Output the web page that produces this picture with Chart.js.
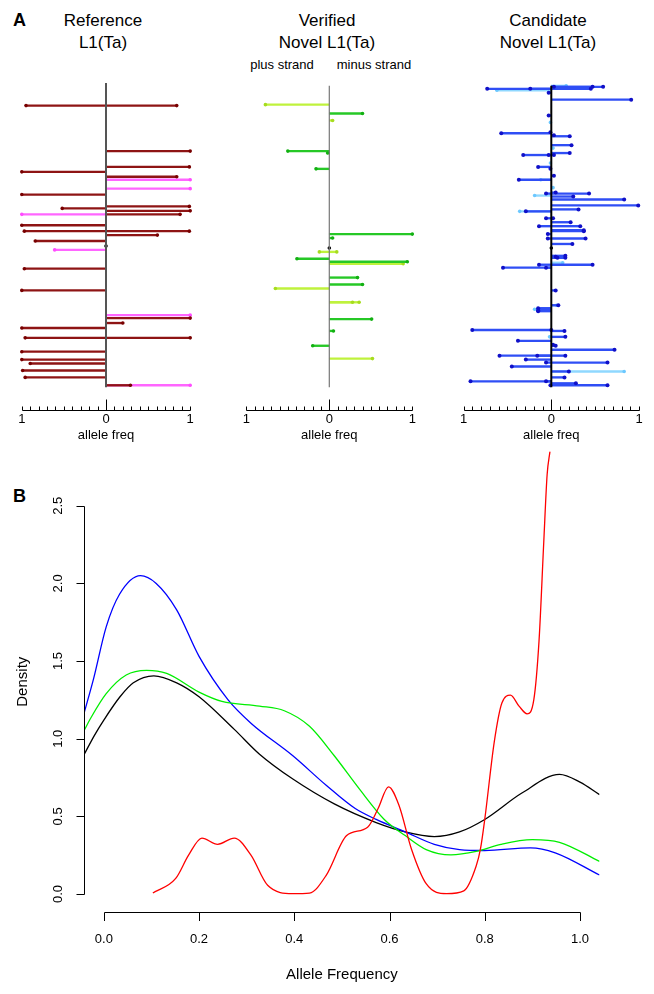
<!DOCTYPE html>
<html>
<head>
<meta charset="utf-8">
<script src="https://cdn.jsdelivr.net/npm/chart.js@4.4.1/dist/chart.umd.min.js"></script>
<style>
  body { margin: 0; background: #fff; }
  #page { position: relative; width: 654px; height: 994px; overflow: hidden;
          font-family: "Liberation Sans", Arial, Helvetica, sans-serif; color: #000; }
  .lbl { position: absolute; text-align: center; white-space: nowrap; }
  .ttl { font-size: 17px; line-height: 22px; width: 160px; }
  .sub { font-size: 13px; line-height: 16px; width: 100px; }
  .tag { font-size: 18px; font-weight: bold; line-height: 22px; }
  canvas { position: absolute; }
</style>
</head>
<body>
<div id="page">
  <div class="lbl tag" style="left:13px;top:9px;">A</div>
  <div class="lbl ttl" style="left:23px;top:10px;">Reference<br>L1(Ta)</div>
  <div class="lbl ttl" style="left:247px;top:10px;">Verified<br>Novel L1(Ta)</div>
  <div class="lbl ttl" style="left:468px;top:10px;">Candidate<br>Novel L1(Ta)</div>
  <div class="lbl sub" style="left:232px;top:57px;">plus strand</div>
  <div class="lbl sub" style="left:324px;top:57px;">minus strand</div>
  <div class="lbl tag" style="left:13px;top:485px;">B</div>

  <canvas id="cRef" width="215" height="380" style="left:0;top:70px"></canvas>
  <canvas id="cVer" width="210" height="380" style="left:225px;top:70px"></canvas>
  <canvas id="cCan" width="214" height="380" style="left:440px;top:70px"></canvas>
  <canvas id="cDens" width="654" height="554" style="left:0;top:440px"></canvas>
</div>
<script>
// --- panel A: locus order (top -> bottom) and allele freq (negative = plus strand, drawn left)
const refDarkPos  = [32, 32, 78, 94, 99, 104, 122, 134, 136, 138.5, 142, 153, 159, 159, 163, 169, 197, 219, 247, 252, 257, 267, 267, 281, 289, 293, 300, 307, 315];
const refDarkFreq = [-0.95, 0.84, 1.0, 0.99, -1.0, 0.84, -1.0, 0.99, -0.52, 1.0, 0.88, -1.0, -0.97, 0.99, 0.61, -0.84, -0.97, -1.0, 1.0, 0.20, -1.0, -0.96, 1.0, -1.0, -1.0, -0.90, -0.99, -0.96, 0.29];
const refPinkPos  = [107, 116, 142, 178, 244, 315];
const refPinkFreq = [1.0, 1.0, -1.0, -0.61, 1.0, 1.0];
const refZeroPos  = [174];

const verYgPos  = [31, 47, 180, 180, 192, 217, 231, 231, 288];
const verYgFreq = [-0.77, 0.04, -0.12, 0.09, 0.89, -0.65, 0.36, 0.28, 0.52];
const verGrPos  = [40, 78, 80, 96, 162, 166, 187, 190, 206, 213, 248, 260, 275];
const verGrFreq = [0.40, -0.50, -0.02, -0.16, 1.0, 0.04, -0.39, 0.94, 0.34, 0.40, 0.51, 0.05, -0.20];
const verZeroPos = [176];

const canBluePos = [13, 13, 13, 15, 15, 15, 19, 26, 42, 59,
  60, 62, 63, 72, 80, 82, 82, 82, 94, 96,
  103, 107, 120, 121, 121, 124, 127, 133, 137, 139,
  146, 146, 150, 154, 154, 158, 159, 162, 166.5, 166.5,
  172, 184, 185, 186, 186, 193, 193, 196, 196, 219,
  234, 237, 239, 240, 259, 259, 260, 266, 270, 274,
  275, 279, 285, 285, 285, 289, 292, 292, 296, 301,
  307, 311, 311, 313, 315, 315];
const canBlueFreq = [0.59, 0.47, 0.03, 0.45, -0.73, -0.24, -0.03, 0.91, -0.03, -0.01,
  -0.57, 0.03, 0.21, 0.23, 0.21, -0.32, -0.03, 0.03, -0.15, -0.01,
  0.03, -0.37, 0.05, 0.43, -0.06, 0.25, 0.83, 0.99, 0.31, -0.29,
  -0.06, 0.02, 0.22, -0.14, 0.33, 0.37, 0.37, -0.04, -0.04, 0.39,
  0.24, 0.16, 0.05, 0.07, 0.16, -0.14, 0.47, -0.55, -0.06, 0.05,
  0.08, -0.15, -0.15, -0.15, -0.90, 0.0, 0.15, 0.16, -0.38, 0.02,
  0.05, 0.72, -0.59, -0.16, 0.16, -0.29, -0.06, 0.64, -0.45, 0.20,
  0.15, -0.92, -0.06, 0.28, 0.64, -0.01];
const canLightPos  = [12, 16.5, 49, 75, 90, 107, 115, 123, 139, 191, 234, 238, 266, 301];
const canLightFreq = [0.17, -0.62, -0.01, 0.02, -0.01, -0.12, 0.02, -0.19, -0.36, 0.13, 0.06, -0.19, -0.02, 0.83];
const canZeroPos = [176];

// --- panel B: density curves
const blackX = [-0.041, -0.02, 0.0, 0.034, 0.062, 0.105, 0.153, 0.2, 0.274, 0.327, 0.397, 0.484, 0.572, 0.633, 0.694, 0.747, 0.8, 0.878, 0.957, 1.0, 1.041];
const blackY = [0.90, 1.02, 1.12, 1.27, 1.36, 1.405, 1.36, 1.27, 1.06, 0.90, 0.74, 0.58, 0.46, 0.40, 0.37, 0.40, 0.48, 0.65, 0.77, 0.72, 0.64];
const blueX = [-0.041, -0.022, 0.005, 0.033, 0.077, 0.11, 0.153, 0.2, 0.261, 0.309, 0.397, 0.467, 0.528, 0.572, 0.633, 0.694, 0.747, 0.8, 0.896, 0.948, 1.041];
const blueY = [1.17, 1.38, 1.72, 1.93, 2.05, 2.0, 1.83, 1.53, 1.25, 1.10, 0.89, 0.70, 0.55, 0.48, 0.40, 0.32, 0.286, 0.28, 0.297, 0.265, 0.122];
const greenX = [-0.041, -0.028, 0.005, 0.047, 0.09, 0.132, 0.2, 0.248, 0.327, 0.379, 0.432, 0.484, 0.537, 0.589, 0.633, 0.677, 0.729, 0.782, 0.834, 0.90, 0.957, 1.041];
const greenY = [1.055, 1.13, 1.29, 1.41, 1.44, 1.42, 1.30, 1.24, 1.21, 1.18, 1.08, 0.89, 0.675, 0.48, 0.376, 0.286, 0.252, 0.274, 0.32, 0.35, 0.333, 0.21];
const redX = [0.103, 0.151, 0.178, 0.206, 0.239, 0.274, 0.309, 0.344, 0.397, 0.432, 0.467, 0.51, 0.554, 0.576, 0.598, 0.62, 0.646, 0.677, 0.72, 0.756, 0.782, 0.791, 0.8, 0.82, 0.836, 0.854, 0.872, 0.889, 0.903, 0.914, 0.924, 0.931, 0.937];
const redY = [0.006, 0.10, 0.25, 0.36, 0.32, 0.36, 0.25, 0.056, 0.002, 0.006, 0.12, 0.376, 0.43, 0.55, 0.69, 0.57, 0.29, 0.066, 0.002, 0.02, 0.18, 0.29, 0.48, 0.98, 1.23, 1.28, 1.21, 1.16, 1.25, 1.63, 2.27, 2.70, 2.85];

const FONT = '"Liberation Sans", Arial, Helvetica, sans-serif';
Chart.defaults.font.family = FONT;
Chart.defaults.color = '#000';
Chart.defaults.animation = false;
Chart.defaults.events = [];
Chart.defaults.plugins.legend.display = false;
Chart.defaults.plugins.tooltip.enabled = false;

// R style axes: line only from first to last tick, ticks drawn by hand
function rAxes(specs) {
  return {
    id: 'rAxes',
    afterDraw(chart) {
      const ctx = chart.ctx, area = chart.chartArea;
      ctx.save();
      ctx.strokeStyle = '#000';
      ctx.lineWidth = 1;
      specs.forEach(s => {
        const sc = chart.scales[s.axis];
        const n = Math.round((s.to - s.from) / s.step);
        ctx.beginPath();
        if (s.axis === 'x') {
          const y = Math.round(area.bottom) + 0.5;
          ctx.moveTo(Math.round(sc.getPixelForValue(s.from)) + 0.5, y);
          ctx.lineTo(Math.round(sc.getPixelForValue(s.to)) + 0.5, y);
          for (let i = 0; i <= n; i++) {
            const v = s.from + i * s.step;
            const px = Math.round(sc.getPixelForValue(v)) + 0.5;
            const len = (s.long && Math.abs(v) < 1e-9) ? s.long : s.len;
            ctx.moveTo(px, y);
            ctx.lineTo(px, y + len);
          }
        } else {
          const x = Math.round(area.left) + 0.5;
          ctx.moveTo(x, Math.round(sc.getPixelForValue(s.from)) + 0.5);
          ctx.lineTo(x, Math.round(sc.getPixelForValue(s.to)) + 0.5);
          for (let i = 0; i <= n; i++) {
            const py = Math.round(sc.getPixelForValue(s.from + i * s.step)) + 0.5;
            ctx.moveTo(x, py);
            ctx.lineTo(x - s.len, py);
          }
        }
        ctx.stroke();
      });
      ctx.restore();
    }
  };
}

function strandSets(pos, freq, lineCol, dotCol, r) {
  return [
    { type: 'scatter', data: pos.map((p, i) => ({ x: freq[i], y: p })),
      pointRadius: r, pointBackgroundColor: dotCol, pointBorderWidth: 0, clip: false },
    { type: 'bar', indexAxis: 'y', grouped: false, barThickness: 1.7, borderWidth: 0,
      backgroundColor: lineCol, clip: false,
      data: pos.map((p, i) => ({ x: [0, freq[i]], y: p })) }
  ];
}

function zeroDots(pos) {
  return { type: 'scatter', data: pos.map(p => ({ x: 0, y: p })),
    pointRadius: 1.8, pointBackgroundColor: '#000', pointBorderWidth: 0 };
}

function strandChart(id, sets, top, bottom, midCol, midWidth, padL, padR) {
  const mid = { type: 'line', data: [{ x: 0, y: top }, { x: 0, y: bottom }],
    borderColor: midCol, borderWidth: midWidth, pointRadius: 0 };
  new Chart(document.getElementById(id), {
    type: 'scatter',
    data: { datasets: [mid].concat(sets) },
    plugins: [rAxes([{ axis: 'x', from: -1, to: 1, step: 0.1, len: -4, long: -11 }])],
    options: {
      responsive: false,
      devicePixelRatio: 1,
      layout: { padding: { left: padL, right: padR, top: 0, bottom: 0 } },
      scales: {
        x: {
          type: 'linear', min: -1, max: 1,
          afterFit: s => { s.height = 40; },
          border: { display: false },
          grid: { display: false, drawTicks: false },
          ticks: {
            stepSize: 0.1, autoSkip: false, includeBounds: false, maxTicksLimit: 100,
            maxRotation: 0, minRotation: 0, padding: 2, font: { size: 13 },
            callback: v => {
              const a = Math.abs(v);
              if (a < 1e-6) return '0';
              if (Math.abs(a - 1) < 1e-6) return '1';
              return '';
            }
          },
          title: { display: true, text: 'allele freq', font: { size: 13 }, padding: { top: 0, bottom: 7 } }
        },
        y: { type: 'linear', reverse: true, min: 0, max: 340, display: false, offset: false }
      }
    }
  });
}

strandChart('cRef', [].concat(
  strandSets(refDarkPos, refDarkFreq, '#8e1414', '#780000', 1.8),
  strandSets(refPinkPos, refPinkFreq, '#ff66ff', '#ff4dff', 1.8),
  [zeroDots(refZeroPos)]
), 9, 317, '#555', 2, 21.8, 24.8);

strandChart('cVer', [].concat(
  strandSets(verGrPos, verGrFreq, '#26c826', '#12b012', 1.8),
  strandSets(verYgPos, verYgFreq, '#bff23c', '#a6dc1e', 1.8),
  [zeroDots(verZeroPos)]
), 12, 317, '#777', 1.2, 21.3, 22.7);

strandChart('cCan', [].concat(
  strandSets(canBluePos, canBlueFreq, '#2f4ef5', '#1010c8', 2),
  strandSets(canLightPos, canLightFreq, '#8fd8ff', '#6cc8ff', 1.8),
  [zeroDots(canZeroPos)]
), 12, 317, '#000', 2, 23.5, 14.9);

// --- panel B
function curve(xs, ys, col) {
  return { data: xs.map((x, i) => ({ x, y: ys[i] })), borderColor: col, borderWidth: 1.3,
    pointRadius: 0, cubicInterpolationMode: 'monotone', fill: false };
}

new Chart(document.getElementById('cDens'), {
  type: 'line',
  data: {
    datasets: [
      curve(redX, redY, '#ff0000'),
      curve(greenX, greenY, '#00ee00'),
      curve(blueX, blueY, '#0000ff'),
      curve(blackX, blackY, '#000000')
    ]
  },
  plugins: [rAxes([
    { axis: 'x', from: 0, to: 1, step: 0.2, len: 8.5 },
    { axis: 'y', from: 0, to: 2.5, step: 0.5, len: 8 }
  ])],
  options: {
    responsive: false,
    devicePixelRatio: 1,
    layout: { padding: { top: 11.4, right: 54.5, left: 0, bottom: 0 } },
    scales: {
      x: {
        type: 'linear', min: -0.041, max: 1.041,
        afterFit: s => { s.height = 82; s.paddingLeft = 0; s.paddingRight = 0; },
        border: { display: false },
        grid: { display: false, drawTicks: false },
        ticks: { stepSize: 0.2, includeBounds: false, maxRotation: 0, minRotation: 0, padding: 20,
                 font: { size: 13 }, callback: v => v.toFixed(1) },
        title: { display: true, text: 'Allele Frequency', font: { size: 15 }, padding: { top: 0, bottom: 10 } }
      },
      y: {
        type: 'linear', min: -0.116, max: 2.85,
        // fixed width, and no extra top room for the rotated labels
        afterFit: s => { s.width = 84.3; s.paddingTop = 0; s.paddingBottom = 0; },
        border: { display: false },
        grid: { display: false, drawTicks: false },
        ticks: { stepSize: 0.5, includeBounds: false, minRotation: 90, maxRotation: 90,
                 crossAlign: 'center', padding: 17, font: { size: 13 },
                 callback: v => v.toFixed(1) },
        title: { display: true, text: 'Density', font: { size: 15 }, padding: { top: 13.5, bottom: 0 } }
      }
    }
  }
});
</script>
</body>
</html>
